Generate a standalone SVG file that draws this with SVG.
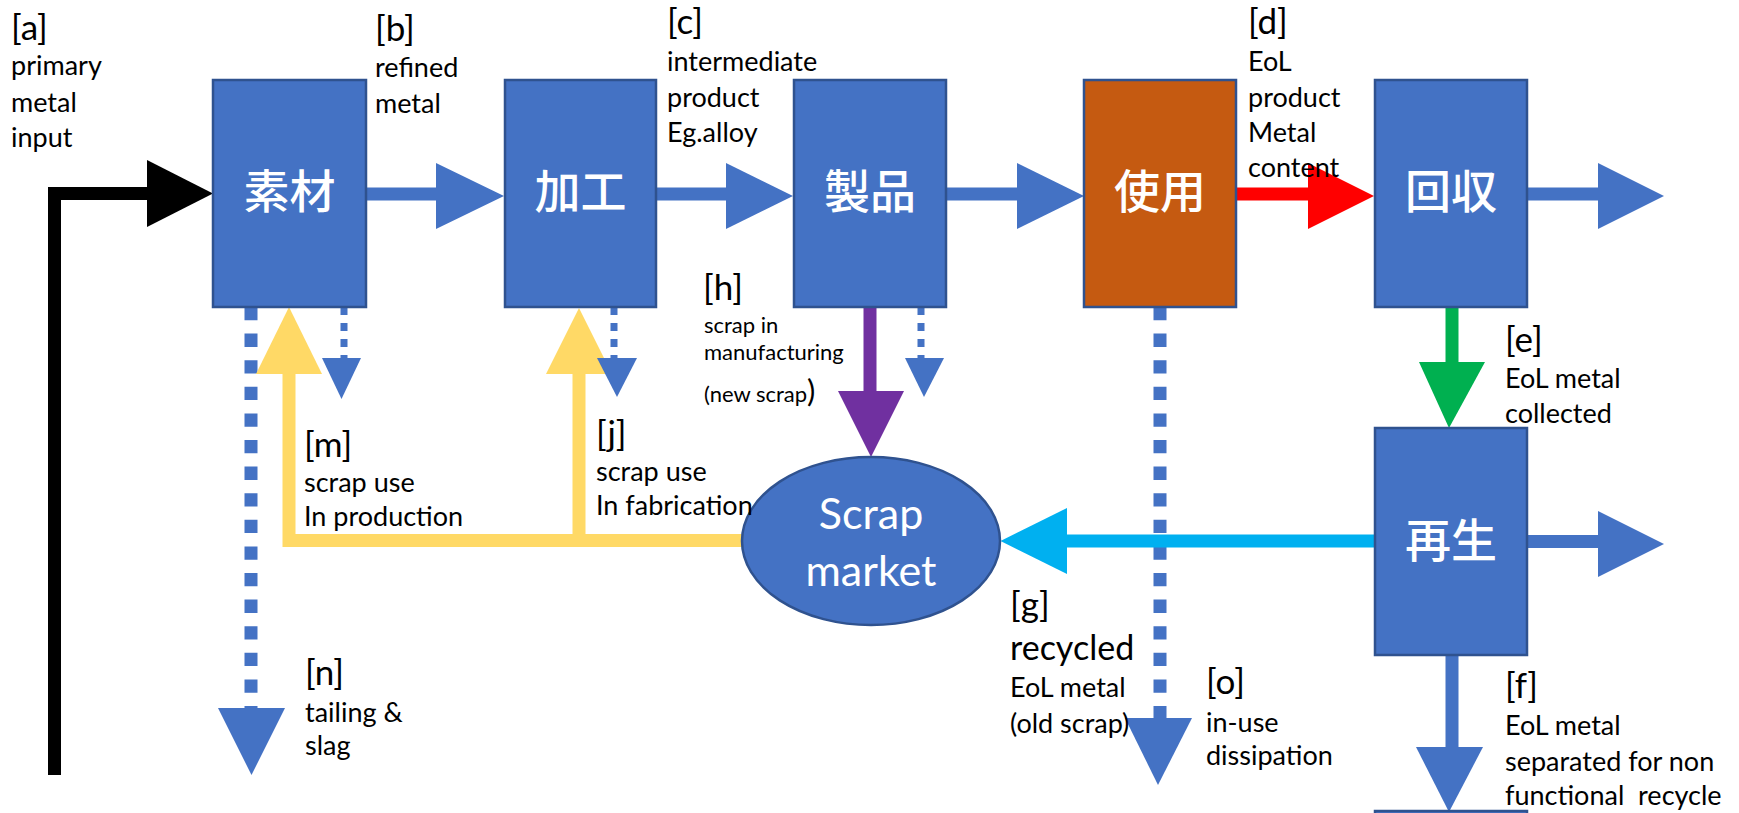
<svg xmlns="http://www.w3.org/2000/svg" width="1739" height="813" viewBox="0 0 1739 813">
  <style>
    .box { fill: #4472C4; stroke: #2F528F; stroke-width: 2.5; }
    .use { fill: #C55A11; stroke: #2F528F; stroke-width: 2.5; }
    .node-txt { font-family: "Noto Sans CJK JP", "Noto Sans CJK SC", sans-serif; font-weight: 500; font-size: 46px; fill: #FFFFFF; text-anchor: middle; }
    .ell-txt { font-family: Lato, "Liberation Sans", sans-serif; font-size: 43px; fill: #FFFFFF; text-anchor: middle; }
    .lbl { font-family: Lato, "Liberation Sans", sans-serif; font-size: 27px; fill: #000000; }
    .key { font-size: 35px; }
    .sm { font-size: 22px; }
    .big { font-size: 34px; }
    .paren { font-size: 31px; }
    .shaft { fill: none; stroke-width: 13; stroke-linejoin: miter; }
    .blue { stroke: #4472C4; }
    .bluef { fill: #4472C4; }
    .dash { stroke-dasharray: 13.3 13.3; }
    .dot { stroke-width: 7; stroke-dasharray: 8 8; }
  </style>

  <!-- flow connectors -->
  <g id="connectors">
    <!-- primary metal input -->
    <path class="shaft" stroke="#000000" d="M54.5,775 V193.5 H148"/>
    <polygon fill="#000000" points="147,160 147,227 213,193.5"/>

    <!-- main chain -->
    <line class="shaft blue" x1="366" y1="194" x2="437" y2="194"/>
    <polygon class="bluef" points="436,163 436,229 504,196"/>
    <line class="shaft blue" x1="656" y1="194" x2="727" y2="194"/>
    <polygon class="bluef" points="726,163 726,229 793,196"/>
    <line class="shaft blue" x1="946" y1="194" x2="1018" y2="194"/>
    <polygon class="bluef" points="1017,163 1017,229 1084,196"/>
    <line class="shaft" stroke="#FF0000" x1="1236" y1="194" x2="1309" y2="194"/>
    <polygon fill="#FF0000" points="1308,163 1308,229 1374,196"/>
    <line class="shaft blue" x1="1527" y1="194" x2="1599" y2="194"/>
    <polygon class="bluef" points="1598,163 1598,229 1664,196"/>

    <!-- tailing & slag -->
    <line class="shaft blue dash" x1="251" y1="307" x2="251" y2="708"/>
    <polygon class="bluef" points="218,708 285,708 251.5,775"/>

    <!-- scrap use loops -->
    <path class="shaft" stroke="#FFD966" d="M289,374 V540.5 H743"/>
    <polygon fill="#FFD966" points="256,374 322,374 289,307"/>
    <line class="shaft" stroke="#FFD966" x1="579" y1="374" x2="579" y2="541"/>
    <polygon fill="#FFD966" points="546,374 612,374 579,308"/>

    <!-- small losses -->
    <line class="shaft blue dot" x1="344" y1="307" x2="344" y2="360"/>
    <polygon class="bluef" points="322,358 361,358 341.5,399"/>
    <line class="shaft blue dot" x1="614" y1="307" x2="614" y2="360"/>
    <polygon class="bluef" points="597,358 637,358 617,397"/>
    <line class="shaft blue dot" x1="921" y1="307" x2="921" y2="360"/>
    <polygon class="bluef" points="905,358 944,358 924,397"/>

    <!-- new scrap -->
    <line class="shaft" stroke="#7030A0" stroke-width="12" x1="870" y1="307" x2="870" y2="392"/>
    <polygon fill="#7030A0" points="838,391 904,391 871,457"/>

    <!-- in-use dissipation -->
    <line class="shaft blue dash" x1="1160" y1="307" x2="1160" y2="718"/>
    <polygon class="bluef" points="1125,718 1192,718 1158,785"/>

    <!-- old scrap -->
    <line class="shaft" stroke="#00B0F0" stroke-width="14" x1="1066" y1="541" x2="1376" y2="541"/>
    <polygon fill="#00B0F0" points="1067,508 1067,574 1000.5,541"/>

    <!-- collected -->
    <line class="shaft" stroke="#00B050" x1="1452" y1="307" x2="1452" y2="363"/>
    <polygon fill="#00B050" points="1419,362 1485,362 1449,428"/>

    <!-- recycling outputs -->
    <line class="shaft blue" x1="1527" y1="541.5" x2="1599" y2="541.5"/>
    <polygon class="bluef" points="1598,511 1598,577 1664,544"/>
    <line class="shaft blue" x1="1452" y1="655" x2="1452" y2="748"/>
    <polygon class="bluef" points="1416,747 1483,747 1449,812"/>
  </g>

  <!-- process nodes -->
  <g id="node-sozai">
    <rect class="box" x="213" y="80" width="153" height="227"/>
    <text class="node-txt" x="289.5" y="208">素材</text>
  </g>
  <g id="node-kakou">
    <rect class="box" x="505" y="80" width="151" height="227"/>
    <text class="node-txt" x="580.5" y="208">加工</text>
  </g>
  <g id="node-seihin">
    <rect class="box" x="794" y="80" width="152" height="227"/>
    <text class="node-txt" x="870" y="208">製品</text>
  </g>
  <g id="node-shiyou">
    <rect class="use" x="1084" y="80" width="152" height="227"/>
    <text class="node-txt" x="1160" y="208">使用</text>
  </g>
  <g id="node-kaishuu">
    <rect class="box" x="1375" y="80" width="152" height="227"/>
    <text class="node-txt" x="1451" y="208">回収</text>
  </g>
  <g id="node-saisei">
    <rect class="box" x="1375" y="428" width="152" height="227"/>
    <text class="node-txt" x="1451" y="557">再生</text>
  </g>
  <g id="node-next">
    <rect class="box" x="1375" y="811" width="152" height="20"/>
  </g>
  <g id="node-scrap-market">
    <ellipse class="box" cx="871" cy="541" rx="129" ry="84"/>
    <text class="ell-txt" x="871" y="529">Scrap</text>
    <text class="ell-txt" x="871" y="586">market</text>
  </g>

  <!-- flow labels -->
  <g id="labels" class="lbl">
    <text class="key" x="11" y="39.5">[a]</text>
    <text x="11" y="75">primary</text>
    <text x="11" y="112">metal</text>
    <text x="11" y="147">input</text>

    <text class="key" x="375" y="41">[b]</text>
    <text x="375" y="77">refined</text>
    <text x="375" y="113">metal</text>

    <text class="key" x="667" y="34">[c]</text>
    <text x="667" y="71">intermediate</text>
    <text x="667" y="107">product</text>
    <text x="667" y="142">Eg.alloy</text>

    <text class="key" x="1248" y="34">[d]</text>
    <text x="1248" y="71">EoL</text>
    <text x="1248" y="107">product</text>
    <text x="1248" y="142">Metal</text>
    <text x="1248" y="177">content</text>

    <text class="key" x="703" y="300">[h]</text>
    <text class="sm" x="704" y="333">scrap in</text>
    <text class="sm" x="704" y="360">manufacturing</text>
    <text x="704" y="402"><tspan class="sm">(new scrap</tspan><tspan class="paren">)</tspan></text>

    <text class="key" x="304" y="457">[m]</text>
    <text x="304" y="492">scrap use</text>
    <text x="304" y="526">In production</text>

    <text class="key" x="596" y="446">[j]</text>
    <text x="596" y="481">scrap use</text>
    <text x="596" y="515">In fabrication</text>

    <text class="key" x="305" y="685">[n]</text>
    <text x="305" y="722">tailing &amp;</text>
    <text x="305" y="755">slag</text>

    <text class="key" x="1505" y="352">[e]</text>
    <text x="1505" y="388">EoL metal</text>
    <text x="1505" y="423">collected</text>

    <text class="key" x="1010" y="617">[g]</text>
    <text class="big" x="1010" y="660">recycled</text>
    <text x="1010" y="697">EoL metal</text>
    <text x="1010" y="733">(old scrap)</text>

    <text class="key" x="1206" y="694">[o]</text>
    <text x="1206" y="732">in-use</text>
    <text x="1206" y="765">dissipation</text>

    <text class="key" x="1505" y="698">[f]</text>
    <text x="1505" y="735">EoL metal</text>
    <text x="1505" y="771">separated for non</text>
    <text x="1505" y="805" xml:space="preserve">functional  recycle</text>
  </g>
</svg>
